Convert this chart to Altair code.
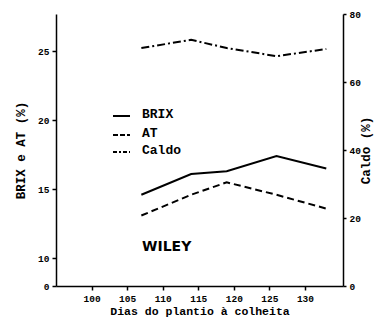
import altair as alt
import pandas as pd

days = [107, 114, 119, 126, 133]
brix = [14.6, 16.1, 16.3, 17.4, 16.5]
at_vals = [13.1, 14.6, 15.5, 14.6, 13.6]
caldo = [70.0, 72.4, 70.0, 67.6, 69.7]
x_ticks = [100, 105, 110, 115, 120, 125, 130]
left_ticks = [8, 10, 15, 20, 25]
right_ticks = [0, 20, 40, 60, 80]
legend_names = ["BRIX", "AT", "Caldo"]

FONT = "Liberation Mono"

df = pd.DataFrame({"dia": days, "BRIX": brix, "AT": at_vals, "Caldo": caldo})

xenc = alt.X("dia:Q", scale=alt.Scale(domain=[95, 135.35], nice=False, zero=False),
             axis=alt.Axis(values=x_ticks, title="Dias do plantio à colheita",
                           titleFont=FONT, titleFontSize=11.5, titleFontWeight="bold",
                           labelFont=FONT, labelFontSize=9.5, labelFontWeight="bold",
                           tickSize=4, labelPadding=3, titlePadding=3))

left_scale = alt.Scale(domain=[8, 27.68], nice=False, zero=False)
left_axis = alt.Axis(values=left_ticks, title="BRIX e AT (%)",
                     labelExpr="datum.value == 8 ? '0' : datum.label",
                     titleFont=FONT, titleFontSize=12.5, titleFontWeight="bold",
                     labelFont=FONT, labelFontSize=9.5, labelFontWeight="bold",
                     tickSize=4, labelPadding=3, titlePadding=10)

brix_line = alt.Chart(df).mark_line(color="black", strokeWidth=2).encode(
    x=xenc, y=alt.Y("BRIX:Q", scale=left_scale, axis=left_axis))
at_line = alt.Chart(df).mark_line(color="black", strokeWidth=2, strokeDash=[7, 4]).encode(
    x=xenc, y=alt.Y("AT:Q", scale=left_scale, axis=left_axis))
left_layer = alt.layer(brix_line, at_line)

caldo_line = alt.Chart(df).mark_line(color="black", strokeWidth=2, strokeDash=[8, 3, 2, 3]).encode(
    x=xenc,
    y=alt.Y("Caldo:Q", scale=alt.Scale(domain=[0, 80], nice=False),
            axis=alt.Axis(orient="right", values=right_ticks, title="Caldo (%)", titleAngle=270,
                          titleFont=FONT, titleFontSize=12.5, titleFontWeight="bold",
                          labelFont=FONT, labelFontSize=9.5, labelFontWeight="bold",
                          tickSize=3, labelPadding=3, titlePadding=12)))

# legend (annotation)
leg_y = [102, 121, 138]
dashes = [[1, 0], [5, 2], [4, 2, 2, 2]]
leg_layers = []
for name, yy, dsh in zip(legend_names, leg_y, dashes):
    d = pd.DataFrame({"name": [name]})
    leg_layers.append(alt.Chart(d).mark_rule(color="black", strokeWidth=2, strokeDash=dsh).encode(
        x=alt.value(57), x2=alt.value(74), y=alt.value(yy)))
    leg_layers.append(alt.Chart(d).mark_text(align="left", baseline="middle", font=FONT,
                                             fontSize=13, fontWeight="bold", color="black").encode(
        x=alt.value(86), y=alt.value(yy - 2), text="name:N"))

wiley = alt.Chart(pd.DataFrame({"t": ["WILEY"]})).mark_text(
    align="left", baseline="middle", font="DejaVu Sans", fontSize=14, fontWeight="bold",
    color="black").encode(x=alt.value(86), y=alt.value(233), text="t:N")

chart = alt.layer(left_layer, caldo_line, *leg_layers, wiley).resolve_scale(
    y="independent"
).properties(
    width=287, height=272,
    autosize=alt.AutoSizeParams(type="none"),
    padding={"left": 56, "top": 14, "right": 37, "bottom": 34},
    background="white",
).configure_view(stroke=None).configure_axis(
    grid=False, domainColor="black", tickColor="black", labelColor="black", titleColor="black",
    domainWidth=1.5, tickWidth=1.5
)

chart.save("out.html", embed_options={"renderer": "svg", "actions": False})
